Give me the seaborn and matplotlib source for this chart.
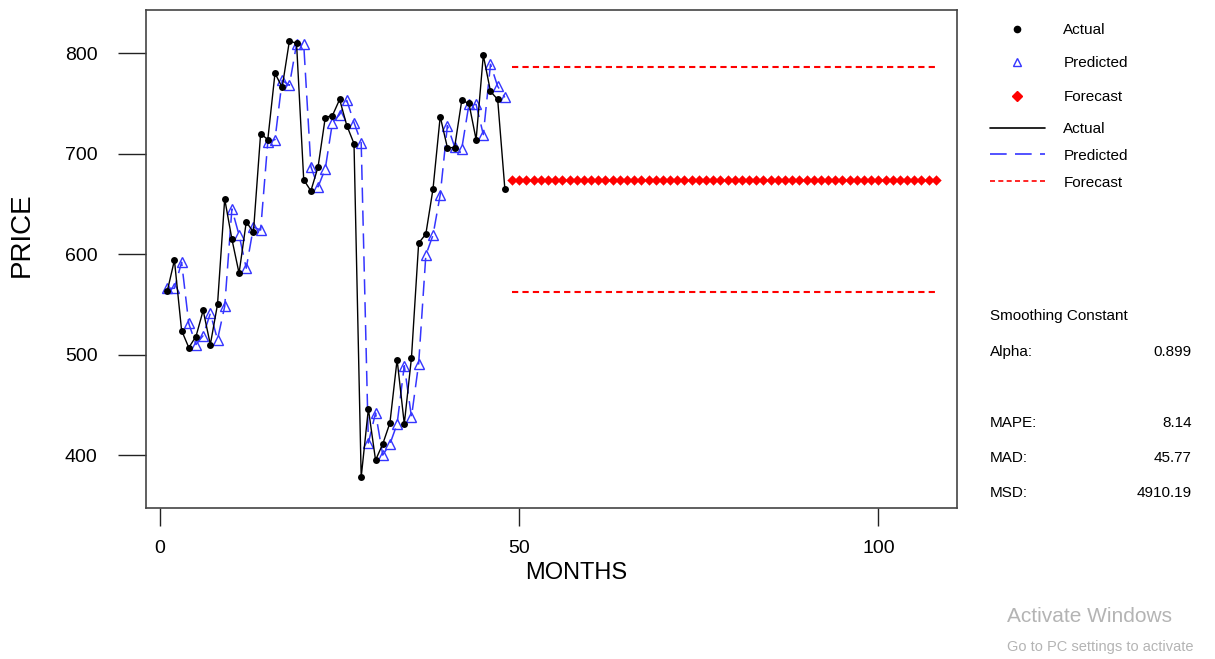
import numpy as np
import pandas as pd
import matplotlib
matplotlib.use("Agg")
import matplotlib.pyplot as plt
from matplotlib.lines import Line2D
import seaborn as sns

# monthly prices
months = list(range(1, 49))
actual = [563, 594, 524, 507, 518, 544, 510, 550, 655, 615, 581, 632,
          622, 720, 714, 780, 766, 812, 810, 674, 663, 687, 736, 738,
          754, 728, 710, 378, 446, 395, 411, 432, 495, 431, 497, 611,
          620, 665, 737, 706, 706, 753, 750, 714, 798, 762, 754, 665]
predicted = [566, 566, 592, 531, 510, 519, 541, 515, 548, 645, 619, 586,
             627, 624, 712, 714, 773, 768, 809, 809, 687, 667, 685, 731,
             739, 753, 731, 711, 412, 442, 400, 411, 431, 489, 438, 491,
             599, 619, 659, 728, 707, 705, 749, 749, 719, 789, 767, 756]
forecast_months = list(range(49, 109))
forecast = [673.6] * len(forecast_months)
upper = [786] * len(forecast_months)
lower = [562] * len(forecast_months)

stats = [("Alpha:", "0.899"), ("MAPE:", "8.14"), ("MAD:", "45.77"), ("MSD:", "4910.19")]

sns.set_style("ticks")
plt.rcParams["font.family"] = ["Liberation Sans", "DejaVu Sans"]
plt.rcParams.update({"text.color": "black", "axes.labelcolor": "black",
                     "xtick.color": "black", "ytick.color": "black"})

BLUE = "#3535ff"
RED = "#ff0000"

hist = pd.DataFrame({"month": months, "actual": actual, "predicted": predicted})
fc = pd.DataFrame({"month": forecast_months, "forecast": forecast,
                   "upper": upper, "lower": lower})

fig = plt.figure(figsize=(12.15, 6.59), dpi=100)
ax = fig.add_axes([0.1202, 0.2291, 0.6675, 0.7557])

sns.lineplot(data=hist, x="month", y="predicted", ax=ax, color=BLUE, lw=1.1,
             linestyle=(0, (10, 5)), marker="^", markersize=6.5,
             markerfacecolor="none", markeredgecolor=BLUE, markeredgewidth=1.0)
sns.lineplot(data=hist, x="month", y="actual", ax=ax, color="black", lw=1.0,
             marker="o", markersize=5, markeredgewidth=0)
sns.lineplot(data=fc, x="month", y="upper", ax=ax, color=RED, lw=1.5,
             linestyle=(0, (3, 2)))
sns.lineplot(data=fc, x="month", y="lower", ax=ax, color=RED, lw=1.5,
             linestyle=(0, (3, 2)))
sns.scatterplot(data=fc, x="month", y="forecast", ax=ax, color=RED, marker="D",
                s=28, linewidth=0)

ax.set_xlim(-1.95, 110.95)
ax.set_ylim(347.3, 843)
ax.set_xticks([0, 50, 100])
ax.set_yticks([400, 500, 600, 700, 800])
ax.tick_params(axis="y", length=20, width=1.0, pad=15, labelsize=14, color="#222222")
ax.tick_params(axis="x", length=13, width=1.0, pad=10, labelsize=14, color="#222222")
for s in ax.spines.values():
    s.set_color("#444444")
    s.set_linewidth(1.2)

ax.set_xlabel("MONTHS", fontsize=17)
ax.set_ylabel("PRICE", fontsize=20)
ax.xaxis.set_label_coords(0.530, -0.1305)
ax.xaxis.label.set_va("center")
ax.yaxis.set_label_coords(-0.153, 0.548)
ax.yaxis.label.set_va("center")

# legends: marker entries then line entries
mark_handles = [
    Line2D([], [], ls="none", marker="o", color="black", markersize=4.5),
    Line2D([], [], ls="none", marker="^", markerfacecolor="none",
           markeredgecolor=BLUE, markersize=5.5),
    Line2D([], [], ls="none", marker="D", color=RED, markersize=5),
]
line_handles = [
    Line2D([], [], color="black", lw=1.2),
    Line2D([], [], color=BLUE, lw=1.2, linestyle=(0, (10, 5))),
    Line2D([], [], color=RED, lw=1.2, linestyle=(0, (3, 2))),
]
fig.legend(mark_handles, ["Actual", "Predicted", "Forecast"],
           loc="upper left", bbox_to_anchor=(0.8148, 0.965), frameon=False,
           fontsize=11, handlelength=3.6, handletextpad=1.2,
           labelspacing=1.27, borderpad=0, borderaxespad=0)
fig.legend(line_handles, ["Actual", "Predicted", "Forecast"],
           loc="upper left", bbox_to_anchor=(0.8148, 0.815), frameon=False,
           fontsize=11, handlelength=3.6, handletextpad=1.2,
           labelspacing=0.84, borderpad=0, borderaxespad=0)

# smoothing summary block
fig.text(0.8148, 1 - 316 / 659, "Smoothing Constant", fontsize=11, va="center")
rows_y = [352, 423, 458, 493]
for (name, val), y in zip(stats, rows_y):
    fig.text(0.8148, 1 - y / 659, name, fontsize=11, va="center")
    fig.text(0.981, 1 - y / 659, val, fontsize=11, va="center", ha="right")

# screenshot watermark
fig.text(0.829, 1 - 617 / 659, "Activate Windows", fontsize=15, color="#b4b4b4", va="center")
fig.text(0.829, 1 - 647 / 659, "Go to PC settings to activate", fontsize=10.5,
         color="#b4b4b4", va="center")

fig.savefig("out.png", dpi=100)
